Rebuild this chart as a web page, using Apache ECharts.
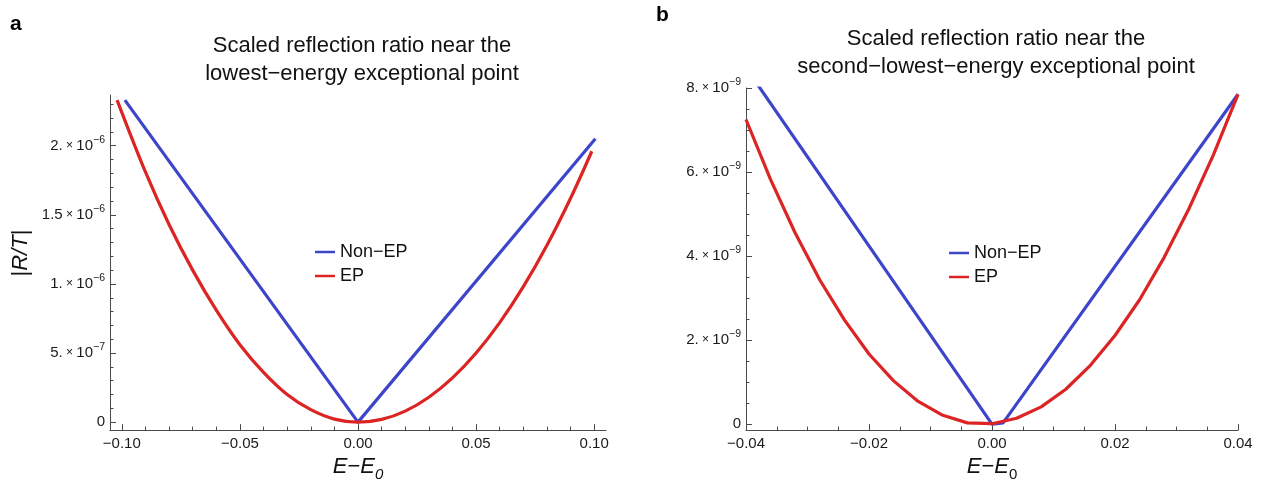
<!DOCTYPE html>
<html>
<head>
<meta charset="utf-8">
<script src="https://cdn.jsdelivr.net/npm/echarts@6/dist/echarts.min.js"></script>
<style>
  html, body { margin: 0; padding: 0; background: #fff; }
  #main { width: 1272px; height: 487px; }
</style>
</head>
<body>
<div id="main"></div>
<script>
// panel a: lowest-energy EP
var aBlueX = [-0.0987, 0, 0.1005];
var aBlueY = [2.33e-6, 0, 2.05e-6];
var aRedX = [-0.102, -0.09, -0.08, -0.07, -0.06, -0.05, -0.04, -0.03, -0.02, -0.01, 0,
             0.01, 0.02, 0.03, 0.04, 0.05, 0.06, 0.07, 0.08, 0.09, 0.099];
var aRedY = [2.33e-6, 1.81e-6, 1.43e-6, 1.10e-6, 0.81e-6, 0.56e-6, 0.36e-6, 0.20e-6, 0.09e-6, 0.022e-6, 0,
             0.02e-6, 0.08e-6, 0.18e-6, 0.32e-6, 0.50e-6, 0.72e-6, 0.98e-6, 1.28e-6, 1.62e-6, 1.96e-6];

// panel b: second-lowest-energy EP
var bBlueX = [-0.04, 0, 0.0018, 0.04];
var bBlueY = [8.48e-9, 0, 0.03e-9, 7.85e-9];
var bRedX = [-0.04, -0.036, -0.032, -0.028, -0.024, -0.02, -0.016, -0.012, -0.008, -0.004, 0,
             0.004, 0.008, 0.012, 0.016, 0.02, 0.024, 0.028, 0.032, 0.036, 0.04];
var bRedY = [7.25e-9, 5.82e-9, 4.55e-9, 3.43e-9, 2.48e-9, 1.67e-9, 1.03e-9, 0.54e-9, 0.21e-9, 0.03e-9, 0.01e-9,
             0.14e-9, 0.41e-9, 0.83e-9, 1.40e-9, 2.11e-9, 2.96e-9, 3.97e-9, 5.12e-9, 6.41e-9, 7.85e-9];

// ticks
var aXTicks = [-0.1, -0.05, 0, 0.05, 0.1];
var aXLabels = ['−0.10', '−0.05', '0.00', '0.05', '0.10'];
var aYTicks = [0, 5e-7, 1e-6, 1.5e-6, 2e-6];
var aYMant = ['0', '5.', '1.', '1.5', '2.'];
var aYExp = ['', '−7', '−6', '−6', '−6'];

var bXTicks = [-0.04, -0.02, 0, 0.02, 0.04];
var bXLabels = ['−0.04', '−0.02', '0.00', '0.02', '0.04'];
var bYTicks = [0, 2e-9, 4e-9, 6e-9, 8e-9];
var bYMant = ['0', '2.', '4.', '6.', '8.'];
var bYExp = ['', '−9', '−9', '−9', '−9'];

var names = ['Non−EP', 'EP'];
var blue = '#3d46c9', red = '#dc2424';
var font = 'Liberation Sans, Arial, Helvetica, sans-serif';
var axisColor = '#4a4a4a';

function zip(xs, ys) {
	return xs.map(function(x, i) { return [x, ys[i]]; });
}
function minors(from, to, step, major) {
	var out = [];
	for (var k = Math.round(from / step); k * step <= to + step * 1e-6; k++) {
		var v = k * step;
		if (Math.abs(v / major - Math.round(v / major)) > 1e-6) out.push(v);
	}
	return out;
}
function pick(ticks, v) {
	for (var i = 0; i < ticks.length; i++) {
		if (Math.abs(ticks[i] - v) <= Math.abs(ticks[ticks.length - 1]) * 1e-6) return i;
	}
	return -1;
}

var tickLabelRich = {
	m: { fontFamily: font, fontSize: 15, lineHeight: 22, color: '#1a1a1a' },
	x: { fontFamily: font, fontSize: 12, lineHeight: 22, color: '#1a1a1a' },
	s: { fontFamily: font, fontSize: 10.5, lineHeight: 10, verticalAlign: 'top', color: '#1a1a1a' }
};

function yFormatter(ticks, mant, exp) {
	return function(v) {
		var i = pick(ticks, v);
		if (i < 0) return '';
		if (!exp[i]) return '{m|' + mant[i] + '}';
		return '{m|' + mant[i] + '}{x| × }{m|10}{s|' + exp[i] + '}';
	};
}
function xFormatter(ticks, labels) {
	return function(v) {
		var i = pick(ticks, v);
		return i < 0 ? '' : labels[i];
	};
}

var xNameRich = {
	i: { fontFamily: font, fontSize: 22, fontStyle: 'italic', lineHeight: 30, color: '#111' },
	n: { fontFamily: font, fontSize: 22, lineHeight: 30, color: '#111' },
	sub: { fontFamily: font, fontSize: 15, lineHeight: 16, verticalAlign: 'bottom', color: '#111' },
	subi: { fontFamily: font, fontSize: 15, fontStyle: 'italic', lineHeight: 16, verticalAlign: 'bottom', color: '#111' }
};

function mainX(grid, min, max, ticks, labels, nameStr) {
	return {
		type: 'value', gridIndex: grid, min: min, max: max, position: 'bottom',
		name: nameStr, nameLocation: 'middle', nameGap: 21,
		nameTextStyle: { rich: xNameRich },
		axisLine: { show: true, onZero: false, lineStyle: { color: axisColor, width: 1 } },
		axisTick: { show: true, inside: true, length: 6, customValues: ticks, lineStyle: { color: axisColor } },
		axisLabel: { customValues: ticks, margin: 6, formatter: xFormatter(ticks, labels),
			fontFamily: font, fontSize: 15, color: '#1a1a1a', showMinLabel: true, showMaxLabel: true },
		splitLine: { show: false }
	};
}
function minorX(grid, min, max, vals) {
	return {
		type: 'value', gridIndex: grid, min: min, max: max, position: 'bottom',
		axisLine: { show: false, onZero: false },
		axisTick: { show: true, inside: true, length: 3.5, customValues: vals, lineStyle: { color: axisColor } },
		axisLabel: { show: false },
		splitLine: { show: false }
	};
}
function mainY(grid, min, max, ticks, mant, exp, nameObj) {
	var ax = {
		type: 'value', gridIndex: grid, min: min, max: max, position: 'left',
		axisLine: { show: true, onZero: false, lineStyle: { color: axisColor, width: 1 } },
		axisTick: { show: true, inside: true, length: 6, customValues: ticks, lineStyle: { color: axisColor } },
		axisLabel: { customValues: ticks, margin: 5, formatter: yFormatter(ticks, mant, exp),
			rich: tickLabelRich, showMinLabel: true, showMaxLabel: true },
		splitLine: { show: false }
	};
	if (nameObj) {
		ax.name = nameObj;
		ax.nameLocation = 'middle';
		ax.nameRotate = 90;
		ax.nameGap = 77;
		ax.nameTextStyle = {
			padding: [0, 0, 0, 19],
			rich: {
				n: { fontFamily: font, fontSize: 22, lineHeight: 24, color: '#111' },
				i: { fontFamily: font, fontSize: 22, fontStyle: 'italic', lineHeight: 24, color: '#111' }
			}
		};
	}
	return ax;
}
function minorY(grid, min, max, vals) {
	return {
		type: 'value', gridIndex: grid, min: min, max: max, position: 'left',
		axisLine: { show: false, onZero: false },
		axisTick: { show: true, inside: true, length: 3.5, customValues: vals, lineStyle: { color: axisColor } },
		axisLabel: { show: false },
		splitLine: { show: false }
	};
}

function lineSeries(name, data, color, xi, yi, smooth) {
	return {
		name: name, type: 'line', data: data, xAxisIndex: xi, yAxisIndex: yi,
		showSymbol: false, symbol: 'none', clip: true, smooth: smooth || false,
		lineStyle: { color: color, width: 3.2, join: 'round' },
		itemStyle: { color: color }
	};
}

var chart = echarts.init(document.getElementById('main'), null, { renderer: 'canvas' });

var aXmin = -0.105, aXmax = 0.105, aYmin = -0.0576e-6, aYmax = 2.367e-6;
var bXmin = -0.04, bXmax = 0.04, bYmin = -0.142e-9, bYmax = 8e-9;

var option = {
	animation: false,
	backgroundColor: '#fff',
	title: [
		{ text: 'a', left: 5, top: 8, textStyle: { fontFamily: font, fontSize: 21, fontWeight: 'bold', color: '#000', lineHeight: 22 } },
		{ text: 'b', left: 651, top: 0, textStyle: { fontFamily: font, fontSize: 21, fontWeight: 'bold', color: '#000', lineHeight: 20 } },
		{ text: 'Scaled reflection ratio near the\nlowest−energy exceptional point', left: 357, top: 27, textAlign: 'center',
			textStyle: { fontFamily: font, fontSize: 22, fontWeight: 'normal', color: '#111', lineHeight: 28, align: 'center' } },
		{ text: 'Scaled reflection ratio near the\nsecond−lowest−energy exceptional point', left: 991, top: 20, textAlign: 'center',
			textStyle: { fontFamily: font, fontSize: 22, fontWeight: 'normal', color: '#111', lineHeight: 28, align: 'center' } }
	],
	legend: [
		{ data: names, orient: 'vertical', left: 310, top: 235, itemGap: 0, itemWidth: 20, itemHeight: 2.5,
			icon: 'rect', selectedMode: false,
			textStyle: { fontFamily: font, fontSize: 18, color: '#111', lineHeight: 24 } },
		{ data: names, orient: 'vertical', left: 944, top: 236, itemGap: 0, itemWidth: 20, itemHeight: 2.5,
			icon: 'rect', selectedMode: false,
			textStyle: { fontFamily: font, fontSize: 18, color: '#111', lineHeight: 24 } }
	],
	grid: [
		{ left: 110, top: 95, width: 496, height: 337 },
		{ left: 746, top: 88, width: 492, height: 344 }
	],
	xAxis: [
		mainX(0, aXmin, aXmax, aXTicks, aXLabels, '{i|E}{n|−}{i|E}{subi|0}'),
		minorX(0, aXmin, aXmax, minors(-0.1, 0.1, 0.01, 0.05)),
		mainX(1, bXmin, bXmax, bXTicks, bXLabels, '{i|E}{n|−}{i|E}{sub|0}'),
		minorX(1, bXmin, bXmax, minors(-0.04, 0.04, 0.005, 0.02))
	],
	yAxis: [
		mainY(0, aYmin, aYmax, aYTicks, aYMant, aYExp, '{n||}{i|R/T}{n||}'),
		minorY(0, aYmin, aYmax, minors(0, 2.3e-6, 1e-7, 5e-7)),
		mainY(1, bYmin, bYmax, bYTicks, bYMant, bYExp, null),
		minorY(1, bYmin, bYmax, minors(0, 8e-9, 5e-10, 2e-9))
	],
	series: [
		lineSeries(names[0], zip(aBlueX, aBlueY), blue, 0, 0),
		lineSeries(names[1], zip(aRedX, aRedY), red, 0, 0, 0.35),
		lineSeries(names[0], zip(bBlueX, bBlueY), blue, 2, 2),
		lineSeries(names[1], zip(bRedX, bRedY), red, 2, 2)
	]
};

chart.setOption(option);
</script>
</body>
</html>
